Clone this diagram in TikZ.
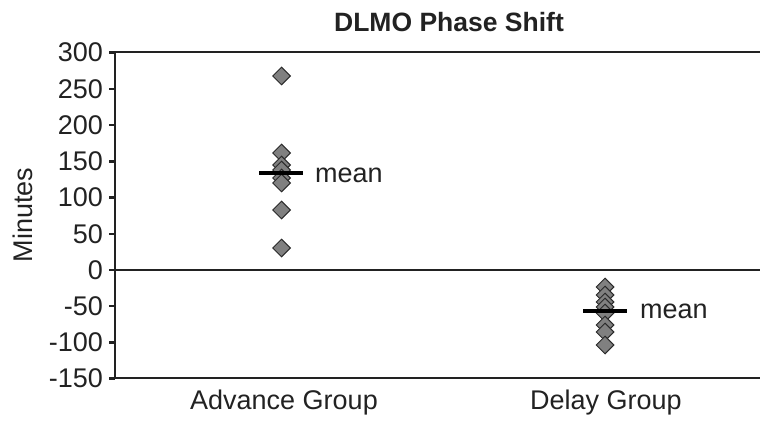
\documentclass[tikz,border=0pt]{standalone}
\usepackage{fontspec}
\setmainfont{Liberation Sans}
\usetikzlibrary{shapes.geometric}
\definecolor{axisc}{HTML}{222222}
\definecolor{ptfill}{HTML}{808080}
\definecolor{ptdraw}{HTML}{2A2A2A}
\tikzset{
  lbl/.style={font=\fontsize{27}{32}\selectfont, text=axisc, inner sep=0pt},
  ticklbl/.style={lbl, anchor=east},
  pt/.style={diamond, draw=ptdraw, fill=ptfill, line width=1pt, inner sep=0pt, minimum width=18pt, minimum height=18pt},
  axisline/.style={draw=axisc, line width=2.5pt},
  meanline/.style={draw=black, line width=3.2pt},
}
\begin{document}
\begin{tikzpicture}[x=1pt,y=-1pt]
\useasboundingbox (0,0) rectangle (760,422);
% title
\node[lbl, font=\fontsize{26.5}{32}\selectfont\bfseries] (title) at (449,22) {DLMO Phase Shift};
% y label
\node[lbl, rotate=90] (ylab) at (23,215) {Minutes};
% frame lines
\coordinate (tl) at (115,52);
\coordinate (tr) at (760,52);
\coordinate (bl) at (115,378);
\coordinate (br) at (760,378);
\coordinate (zl) at (115,270);
\coordinate (zr) at (760,270);
\draw[axisline] (tr) -- (tl) -- (bl) -- (br);
\draw[axisline] (zl) -- (zr);
% ticks and labels
\foreach \v/\n in {300/t1,250/t2,200/t3,150/t4,100/t5,50/t6,0/t7,-50/t8,-100/t9,-150/t10}{
  \coordinate (\n a) at (109,{270-0.7244*\v});
  \coordinate (\n b) at (115,{270-0.7244*\v});
  \draw[axisline] (\n a) -- (\n b);
  \node[ticklbl] (\n) at (103,{270-0.7244*\v}) {\v};
}
% category labels
\node[lbl] (adv) at (284,403) {Advance Group};
\node[lbl] (del) at (606,403) {Delay Group};
% advance points
\foreach \y [count=\i] in {76,153,165,170,178,183,210,248}{
  \node[pt] (a\i) at (281.5,\y) {};
}
% delay points
\foreach \y [count=\i] in {287,295,302,307,313,325,332,345}{
  \node[pt] (d\i) at (605,\y) {};
}
% means
\coordinate (am1) at (259,173);
\coordinate (am2) at (303,173);
\draw[meanline] (am1) -- (am2);
\node[lbl, anchor=west] (amean) at (315,175) {mean};
\coordinate (dm1) at (583,311);
\coordinate (dm2) at (627,311);
\draw[meanline] (dm1) -- (dm2);
\node[lbl, anchor=west] (dmean) at (640,311) {mean};
\end{tikzpicture}
\end{document}
